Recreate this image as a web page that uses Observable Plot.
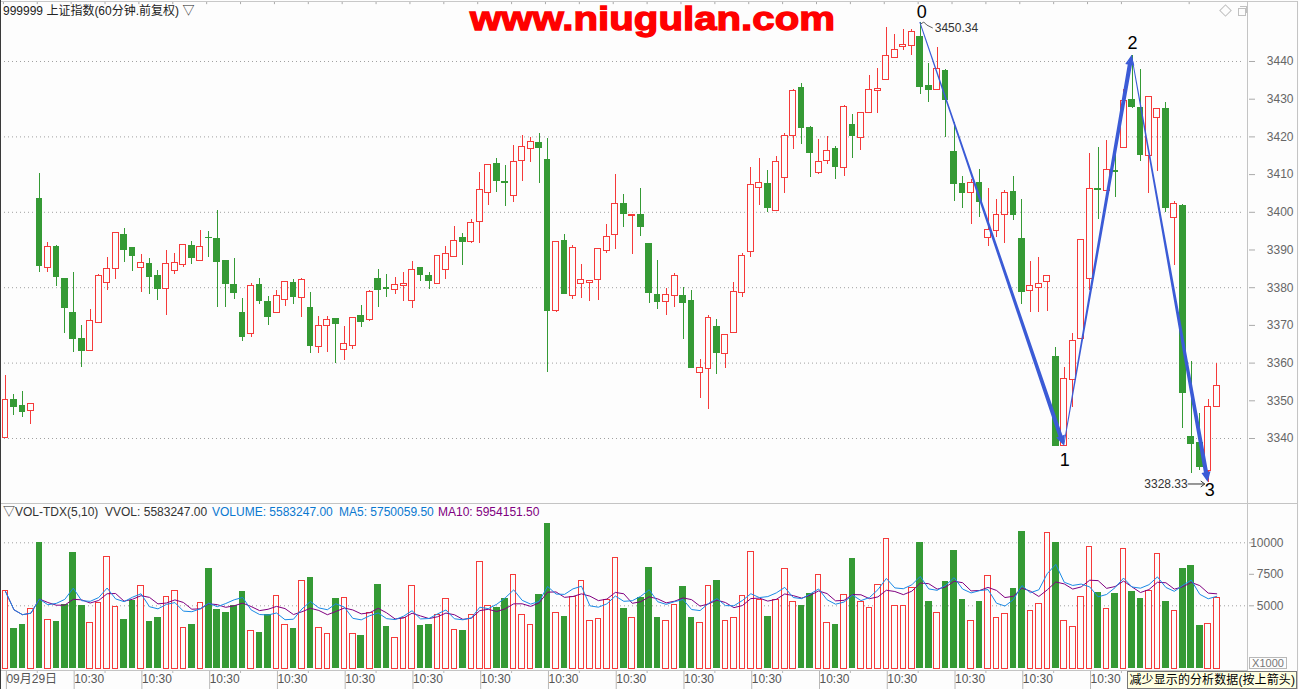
<!DOCTYPE html>
<html><head><meta charset="utf-8">
<script src="https://cdn.jsdelivr.net/npm/d3@7"></script>
<script src="https://cdn.jsdelivr.net/npm/@observablehq/plot@0.6"></script>
<style>
html,body{margin:0;padding:0;background:#fdfdfd;}
#wrap{position:relative;width:1299px;height:689px;overflow:hidden;background:#fdfdfd;font-family:"Liberation Sans",Arial,"Noto Sans CJK SC",sans-serif;font-size:12px;}
.abs{position:absolute;white-space:nowrap;}
.ln{position:absolute;background:#c4c4c4;}
</style></head><body>
<div id="wrap">
  <div id="price" class="abs" style="left:0;top:0"></div>
  <div id="vol" class="abs" style="left:0;top:502px"></div>
  <div class="ln" style="left:0;top:1px;width:1297px;height:1px;background:#c8c8c8"></div>
  <div class="ln" style="left:0;top:503px;width:1297px;height:1px;"></div>
  <div class="ln" style="left:0;top:670px;width:1247px;height:1px;"></div>
  <div class="ln" style="left:1247px;top:1px;width:1px;height:670px;"></div>
  <div class="ln" style="left:1297px;top:1px;width:1px;height:688px;"></div>
  <div class="ln" style="left:0;top:0;width:1px;height:689px;background:#3a3a3a"></div>
  <div id="title" class="abs" style="left:3px;top:4px;color:#222;font-size:12px;line-height:14px"></div>
  <div id="volhdr" class="abs" style="left:0;top:505px;font-size:12px;line-height:14px;width:700px;height:14px"></div>
  <svg id="ovl" class="abs" style="left:0;top:0;pointer-events:none" width="1299" height="689"></svg>
  <div class="abs" style="left:1249px;top:657px;width:36px;height:10px;border:1px solid #b8b8b8;color:#777;font-size:11px;line-height:10px;text-align:center">X1000</div>
  <div id="tip" class="abs" style="right:2px;top:671px;height:16px;background:#ffffe1;border:1px solid #777;color:#000;font-family:'Liberation Sans','Noto Sans CJK SC',sans-serif;font-size:12px;letter-spacing:0.1px;line-height:16px;padding:0 1px 0 2px"></div>
  <div class="abs" style="left:1221px;top:6px;width:7px;height:7px;border:1px solid #c0c0c0;transform:rotate(45deg)"></div>
  <div class="abs" style="left:1238px;top:8px;width:6px;height:6px;border:1px solid #c0c0c0"></div>
  <div class="abs" style="left:1240px;top:6px;width:6px;height:6px;border:1px solid #c0c0c0;border-left:none;border-bottom:none"></div>
</div>
<script>
// ---------------- data ----------------
const titleText = "999999 上证指数(60分钟.前复权) ▽";
const watermark = "www.niugulan.com";
const tipText = "减少显示的分析数据(按上箭头)";
const volHeader = [
  {t: "▽VOL-TDX(5,10)  VVOL: 5583247.00", c: "#333"},
  {t: "VOLUME: 5583247.00", c: "#0a78d0"},
  {t: "MA5: 5750059.50", c: "#0a78d0"},
  {t: "MA10: 5954151.50", c: "#800080"}
];

const open = [3340.2,3350.3,3348.5,3347.4,3403.4,3385.3,3390.9,3382.4,3373.4,3366.3,
3363.3,3370.9,3381.5,3385.0,3394.0,3390.4,3385.4,3386.4,3383.0,3379.7,
3384.5,3386.1,3391.1,3387.3,3393.3,3392.8,3387.0,3380.8,3373.2,3367.9,
3380.8,3376.3,3373.5,3377.0,3381.3,3377.3,3374.7,3364.5,3369.9,3371.6,
3363.5,3364.8,3372.6,3371.5,3382.4,3379.8,3379.6,3380.7,3376.5,3385.1,
3383.1,3381.2,3384.7,3388.4,3393.1,3392.2,3397.5,3405.3,3412.7,3408.0,
3404.4,3413.7,3416.8,3418.4,3413.9,3374.0,3392.5,3377.8,3381.0,3381.5,
3382.1,3389.8,3394.0,3402.3,3399.1,3399.4,3391.7,3378.1,3376.3,3377.8,
3377.7,3376.6,3357.4,3358.7,3369.7,3362.6,3368.0,3378.6,3389.5,3406.5,
3407.6,3400.4,3409.1,3420.3,3433.0,3422.4,3410.5,3413.7,3416.8,3412.0,
3423.2,3419.8,3426.6,3432.2,3435.1,3441.0,3443.9,3444.2,3446.6,3433.4,
3432.5,3437.6,3416.1,3407.6,3405.2,3407.8,3393.3,3395.2,3399.3,3405.5,
3392.8,3379.3,3380.0,3381.6,3361.5,3338.2,3355.6,3366.4,3382.4,3406.1,
3405.7,3410.9,3417.3,3429.9,3427.6,3415.0,3425.1,3427.3,3398.5,3401.8,
3340.5,3338.9,3331.5,3348.6];
const high = [3356.7,3351.7,3352.5,3348.9,3410.3,3391.9,3391.2,3382.4,3384.0,3370.0,
3374.1,3383.4,3388.0,3394.3,3395.7,3390.4,3388.7,3387.7,3384.6,3389.9,
3389.0,3391.5,3392.3,3395.2,3394.9,3400.5,3387.0,3387.8,3377.2,3381.0,
3382.4,3377.7,3379.3,3381.6,3382.3,3382.4,3378.7,3372.4,3372.4,3371.8,
3369.7,3371.7,3375.3,3379.3,3384.8,3383.5,3382.7,3384.0,3387.0,3385.1,
3384.0,3388.2,3390.9,3396.2,3394.4,3398.1,3410.6,3412.3,3414.3,3412.4,
3417.7,3420.4,3419.9,3421.0,3419.6,3392.3,3394.0,3391.2,3386.2,3381.7,
3390.0,3396.8,3410.1,3404.7,3399.2,3406.2,3391.7,3387.2,3379.8,3383.7,
3380.0,3379.3,3361.0,3372.6,3371.5,3367.2,3381.3,3389.0,3411.9,3414.3,
3411.1,3414.8,3420.8,3432.7,3434.2,3422.7,3419.3,3420.0,3417.5,3428.2,
3425.9,3426.6,3436.3,3438.1,3448.9,3447.2,3448.4,3448.4,3450.34,3439.4,
3443.6,3438.0,3423.8,3409.6,3408.7,3411.3,3406.2,3403.5,3405.9,3409.5,
3403.4,3387.0,3387.9,3383.2,3364.2,3358.9,3367.8,3392.8,3415.7,3417.3,
3419.0,3415.5,3432.7,3441.6,3437.8,3430.4,3427.4,3429.0,3402.8,3402.2,
3360.5,3346.5,3350.3,3359.9];
const low = [3340.0,3346.1,3345.7,3343.7,3383.9,3383.9,3380.4,3367.8,3362.9,3358.9,
3363.3,3370.6,3379.3,3382.3,3386.8,3384.4,3378.8,3378.2,3376.6,3372.7,
3383.5,3385.4,3386.2,3387.3,3388.1,3374.8,3374.8,3376.8,3365.8,3366.9,
3375.5,3370.0,3373.5,3375.1,3375.5,3372.2,3362.6,3362.6,3362.9,3360.0,
3360.7,3363.7,3369.5,3371.1,3374.8,3377.5,3378.3,3376.4,3374.4,3381.7,
3379.4,3381.0,3382.3,3388.1,3385.9,3391.8,3391.8,3401.9,3405.3,3401.6,
3402.7,3408.3,3413.3,3407.7,3357.6,3373.5,3378.3,3377.0,3377.2,3376.4,
3376.6,3389.2,3390.2,3396.0,3388.8,3393.7,3375.7,3374.3,3372.5,3374.8,
3366.3,3358.7,3350.7,3347.8,3356.9,3358.5,3368.0,3377.5,3388.1,3401.9,
3399.9,3400.4,3405.1,3416.7,3418.1,3409.1,3410.1,3412.8,3408.8,3409.6,
3414.4,3416.5,3426.6,3426.3,3435.1,3441.0,3442.9,3441.6,3431.2,3429.2,
3432.5,3419.9,3402.9,3401.1,3396.7,3398.7,3390.9,3393.4,3391.6,3397.9,
3375.5,3373.5,3373.5,3373.8,3338.0,3338.0,3348.1,3366.4,3379.3,3398.1,
3405.7,3404.0,3417.3,3427.6,3413.5,3404.9,3410.9,3399.9,3385.9,3342.6,
3330.8,3331.5,3328.33,3348.6];
const close = [3350.1,3348.3,3347.0,3348.9,3385.7,3390.6,3382.8,3374.7,3366.4,3363.3,
3371.0,3382.9,3384.7,3394.3,3390.0,3388.4,3386.3,3382.8,3379.6,3386.1,
3386.3,3391.1,3387.8,3390.6,3393.2,3386.8,3380.9,3378.5,3366.9,3380.3,
3376.4,3372.2,3377.7,3381.3,3377.5,3381.8,3364.5,3369.6,3371.2,3370.3,
3364.9,3371.7,3370.9,3378.6,3379.3,3379.7,3380.5,3380.9,3384.5,3383.3,
3381.7,3388.2,3388.7,3392.2,3392.1,3396.9,3405.7,3412.3,3408.3,3407.9,
3413.1,3417.1,3418.4,3417.0,3373.8,3391.9,3378.3,3390.3,3381.8,3381.6,
3390.0,3393.2,3402.0,3399.5,3399.2,3396.1,3378.5,3376.2,3377.8,3383.1,
3375.9,3358.7,3358.7,3371.7,3362.6,3367.2,3378.8,3388.2,3407.0,3407.7,
3401.2,3413.3,3420.0,3432.0,3422.4,3415.7,3413.3,3416.2,3412.0,3427.7,
3420.2,3426.1,3432.2,3432.5,3441.2,3442.8,3444.2,3447.8,3433.2,3432.5,
3437.8,3429.8,3407.6,3405.1,3407.6,3402.8,3395.3,3399.1,3405.1,3399.3,
3378.8,3380.4,3380.9,3382.9,3338.0,3355.6,3365.6,3392.5,3406.0,3405.9,
3411.0,3410.8,3429.4,3427.9,3415.2,3430.4,3427.4,3401.2,3402.1,3352.1,
3338.6,3332.4,3348.3,3353.8];
// volume, in thousands
const volume = [6139,3228,3519,4763,10028,3890,3757,5107,9235,5027,
3651,5239,8891,4922,3943,5424,6589,3757,4075,5715,
6139,3202,3519,5239,7964,4710,4472,5001,6165,3016,
2884,4287,5795,3493,3228,6933,7250,3255,2778,5583,
5636,2778,2646,4419,6694,3360,2408,3995,6589,3440,
3519,4234,5557,3096,3043,4287,8441,5001,4842,5583,
7462,4287,3493,5901,11537,4445,4154,5689,6933,3757,
3916,5477,8811,4816,3995,5689,8044,4075,3757,5080,
6536,4075,3651,6589,7012,3757,3995,5742,9287,5477,
4154,5451,7938,5266,5027,5980,7462,3651,3519,5874,
8758,5266,4842,6668,10319,5001,4948,6377,10028,5345,
4445,6959,9393,5504,3810,5345,7382,3995,4366,6377,
10902,4551,5160,10796,10028,3810,3281,5715,9684,6059,
4763,5980,9526,6139,5583,6139,9076,5345,4604,7964,
8203,3440,3572,5583];

// wave points (bar index, price) and labels
const zzBar = [108, 125, 133, 142];
const zzVal = [3450.34, 3338.0, 3441.6, 3328.33];
const zzLabel = ["0", "1", "2", "3"];

// axis ticks
const priceTicks = [3340,3350,3360,3370,3380,3390,3400,3410,3420,3430,3440];
const priceGrid = [3340,3360,3380,3400,3420,3440];
const volTicks = [5000, 7500, 10000];
const volGrid = [5000, 10000];
const xTickBars = [0,8,16,24,32,40,48,56,64,72,80,88,96,104,112,120,128];
const xTickLabels = ["09月29日","10:30","10:30","10:30","10:30","10:30","10:30","10:30","10:30",
  "10:30","10:30","10:30","10:30","10:30","10:30","10:30","10:30"];
const xMinorBars = [4,12,20,28,36,44,52,60,68,76,84,92,100,108,116,124,132,140];

// ---------------- style ----------------
const RED = "#f53a3a", GREEN = "#359a35", BG = "#fdfdfd", ZZ = "#3b5bd6";
const FONT = "'Liberation Sans', Arial, 'Noto Sans CJK SC', sans-serif";
const xDomain = [-0.5903, 146.753];

const candles = open.map((o, i) => ({i, o, h: high[i], l: low[i], c: close[i], up: close[i] >= o}));
const upC = candles.filter(d => d.up), dnC = candles.filter(d => !d.up);
const vols = volume.map((v, i) => ({i, v, up: candles[i].up}));
const upV = vols.filter(d => d.up), dnV = vols.filter(d => !d.up);

const majorPos = xTickBars.map(b => b - 0.25);
const minorPos = xMinorBars.map(b => b - 0.25);
const labelMap = new Map(majorPos.map((p, k) => [p, xTickLabels[k]]));
const yTop = 3456.18;

function zigzagMark(index, scales) {
  const sx = scales.x, sy = scales.y;
  const g = d3.create("svg:g");
  const P = zzBar.map((b, k) => [sx(b), sy(zzVal[k])]);
  for (let k = 0; k < P.length - 1; k++) {
    const [ax, ay] = P[k], [bx, by] = P[k + 1];
    const L = Math.hypot(bx - ax, by - ay), ux = (bx - ax) / L, uy = (by - ay) / L, nx = -uy, ny = ux;
    const w0 = 0.45, w1 = 2.1, aw = 4.6, ah = 10;
    const px = bx - ux * ah, py = by - uy * ah;
    const pts = [[ax + nx * w0, ay + ny * w0], [px + nx * w1, py + ny * w1], [px + nx * aw, py + ny * aw], [bx, by],
      [px - nx * aw, py - ny * aw], [px - nx * w1, py - ny * w1], [ax - nx * w0, ay - ny * w0]];
    g.append("polygon").attr("points", pts.map(p => p.join(",")).join(" ")).attr("fill", ZZ);
  }
  const lblOff = [[2, -10], [1, 14], [1, -12], [2, 8]];
  P.forEach(([x, y], k) => {
    g.append("text").attr("x", x + lblOff[k][0]).attr("y", y + lblOff[k][1]).attr("dy", "0.36em")
      .attr("text-anchor", "middle").attr("font-size", 18).attr("fill", "#000").attr("font-family", FONT).text(zzLabel[k]);
  });
  // top price note
  const [x0, y0] = P[0];
  g.append("path").attr("d", `M${x0+1},${y0+2} l3,-2 l3,3 l6,3`).attr("fill", "none").attr("stroke", "#333").attr("stroke-width", 0.8);
  g.append("text").attr("x", x0 + 15).attr("y", y0 + 6).attr("dy", "0.35em").attr("text-anchor", "start").attr("font-size", 12)
    .attr("fill", "#333").attr("font-family", FONT).text(zzVal[0].toFixed(2));
  // bottom price note
  const [x3, y3] = P[3];
  g.append("path").attr("d", `M${x3-20},${y3+2} L${x3-3},${y3+2} M${x3-7},${y3-1} L${x3-3},${y3+2} L${x3-7},${y3+5}`)
    .attr("fill", "none").attr("stroke", "#333").attr("stroke-width", 1);
  g.append("text").attr("x", x3 - 20).attr("y", y3 + 2).attr("dy", "0.35em").attr("text-anchor", "end").attr("font-size", 12)
    .attr("fill", "#333").attr("font-family", FONT).text(zzVal[3].toFixed(2));
  return g.node();
}

const price = Plot.plot({
  width: 1299, height: 502,
  marginLeft: 0, marginRight: 51, marginTop: 0, marginBottom: 0,
  x: {type: "linear", domain: xDomain, axis: null, label: null},
  y: {type: "linear", domain: [3323.024, yTop], axis: null, label: null},
  style: {background: "transparent", fontFamily: FONT, fontSize: "12px", overflow: "visible"},
  marks: [
    Plot.ruleY(priceGrid, {stroke: "#a0a0a0", strokeDasharray: "1,3", x1: xDomain[0], x2: 146.2}),
    Plot.axisY(priceTicks, {anchor: "right", tickSize: 6, tickPadding: 39, textAnchor: "end", tickFormat: "d", stroke: "#aaa", fill: "#666", label: null}),
    Plot.ruleX(majorPos.concat(minorPos), {y1: yTop - 0.3, y2: yTop - 1.1, stroke: "#aaa"}),
    Plot.ruleX(candles, {x: "i", y1: "l", y2: "h", stroke: d => d.up ? RED : GREEN, shapeRendering: "crispEdges"}),
    Plot.rect(dnC, {x1: d => d.i - 0.39, x2: d => d.i + 0.39, y1: "o", y2: "c", fill: GREEN, insetTop: -0.5, insetBottom: -0.5, shapeRendering: "crispEdges"}),
    Plot.rect(upC, {x1: d => d.i - 0.35, x2: d => d.i + 0.35, y1: "o", y2: "c", fill: BG, stroke: RED, insetTop: -0.5, insetBottom: -0.5, shapeRendering: "crispEdges"}),
    zigzagMark
  ]
});
document.getElementById("price").appendChild(price);

const vol = Plot.plot({
  width: 1299, height: 187,
  marginLeft: 0, marginRight: 51, marginTop: 0, marginBottom: 19,
  x: {type: "linear", domain: xDomain, axis: null, label: null},
  y: {type: "linear", domain: [-134.9, 13198.4], axis: null, label: null},
  style: {background: "transparent", fontFamily: FONT, fontSize: "12px", overflow: "visible"},
  marks: [
    Plot.ruleY(volGrid, {stroke: "#a0a0a0", strokeDasharray: "1,3"}),
    Plot.axisY(volTicks, {anchor: "right", tickSize: 5, tickPadding: 30, textAnchor: "end", tickFormat: "d", stroke: "#aaa", fill: "#666", label: null}),
    Plot.rectY(dnV, {x1: d => d.i - 0.39, x2: d => d.i + 0.39, y1: 0, y2: "v", fill: GREEN, shapeRendering: "crispEdges"}),
    Plot.rectY(upV, {x1: d => d.i - 0.33, x2: d => d.i + 0.33, y1: 0, y2: "v", fill: BG, stroke: RED, shapeRendering: "crispEdges"}),
    Plot.lineY(volume, Plot.windowY({k: 10, anchor: "end"}, {x: (d, i) => i, y: d => d, stroke: "#800080", strokeWidth: 1})),
    Plot.lineY(volume, Plot.windowY({k: 5, anchor: "end"}, {x: (d, i) => i, y: d => d, stroke: "#1a8ae6", strokeWidth: 1})),
    Plot.axisX(majorPos, {anchor: "bottom", tickSize: 19, tickPadding: -15, textAnchor: "start", dx: 3,
      tickFormat: d => labelMap.get(d), stroke: "#b8b8b8", fill: "#555", label: null}),
    Plot.axisX(minorPos, {anchor: "bottom", tickSize: 3, tickFormat: () => "", stroke: "#b8b8b8", label: null})
  ]
});
document.getElementById("vol").appendChild(vol);

// texts
document.getElementById("title").textContent = titleText;
document.getElementById("tip").textContent = tipText;
const hdr = d3.select("#volhdr");
const hdrX = [3, 212, 339, 438];
volHeader.forEach((h, k) => hdr.append("span").attr("class", "abs").style("left", hdrX[k] + "px").style("top", "0px")
  .style("color", h.c).style("white-space", "pre").text(h.t));

d3.select("#ovl").append("text").attr("x", 470).attr("y", 30).attr("textLength", 365).attr("lengthAdjust", "spacingAndGlyphs")
  .attr("font-family", "'Liberation Sans', Arial, sans-serif").attr("font-weight", "bold").attr("font-size", 34)
  .attr("fill", "#ff0000").attr("stroke", "#ff0000").attr("stroke-width", 1.3).text(watermark);
</script>
</body></html>
